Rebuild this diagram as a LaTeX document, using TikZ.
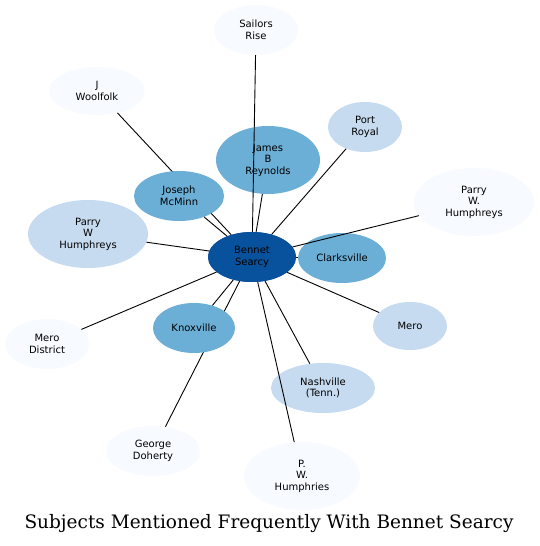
\documentclass[tikz,border=0pt]{standalone}
\usepackage{fontspec}
\setmainfont{DejaVu Sans}
\newfontfamily\titlefont{DejaVu Serif}
\usetikzlibrary{shapes.geometric}
\definecolor{c0}{HTML}{F7FBFF}
\definecolor{c1}{HTML}{C6DBEF}
\definecolor{c2}{HTML}{6BAED6}
\definecolor{c3}{HTML}{08519C}
\tikzset{
  ent/.style args={#1/#2/#3}{ellipse, fill=#1, draw=none, inner sep=0pt,
    minimum width=#2pt, minimum height=#3pt, align=center,
    font=\fontsize{10}{11.5}\selectfont},
  link/.style={line width=0.9pt, black}
}
\begin{document}
\begin{tikzpicture}[x=1pt,y=-1pt]
\useasboundingbox (0,0) rectangle (539,546);
\fill[white] (0,0) rectangle (539,546);
% centre node first, so that the hidden edges can reach it
\node[ent=c3/88/50] (B) at (252,257) {Bennet\\Searcy};
% nodes whose edges run under other nodes
\node[ent=c0/96/48] (WO) at (97,91) {J\\Woolfolk};
\node[ent=c0/94/50] (GD) at (153,451) {George\\Doherty};
\draw[link] (WO) -- (B);
\draw[link] (GD) -- (B);
% nodes
\node[ent=c0/84/50] (SR) at (256,30) {Sailors\\Rise};
\node[ent=c1/74/50] (PR) at (365,127) {Port\\Royal};
\node[ent=c2/104/68] (JR) at (268,160) {James\\B\\Reynolds};
\node[ent=c2/90/50] (JM) at (179,196) {Joseph\\McMinn};
\node[ent=c0/120/68] (PH2) at (474,202) {Parry\\W.\\Humphreys};
\node[ent=c1/120/68] (PH1) at (88,234) {Parry\\W\\Humphreys};
\node[ent=c3/88/50] (B) at (252,257) {Bennet\\Searcy};
\node[ent=c2/88/50] (CL) at (342,258) {Clarksville};
\node[ent=c1/74/48] (ME) at (410,326) {Mero};
\node[ent=c0/84/50] (MD) at (47,344) {Mero\\District};
\node[ent=c2/82/50] (KN) at (194,328) {Knoxville};
\node[ent=c1/104/50] (NA) at (323,388) {Nashville\\(Tenn.)};
\node[ent=c0/116/68] (PW) at (302,476) {P.\\W.\\Humphries};
% edges drawn over the nodes
\draw[link] (SR) -- (B);
\draw[link] (PR) -- (B);
\draw[link] (JR) -- (B);
\draw[link] (JM) -- (B);
\draw[link] (PH2) -- (B);
\draw[link] (PH1) -- (B);
\draw[link] (CL) -- (B);
\draw[link] (ME) -- (B);
\draw[link] (MD) -- (B);
\draw[link] (KN) -- (B);
\draw[link] (NA) -- (B);
\draw[link] (PW) -- (B);
\node[font=\titlefont\fontsize{18.5}{21}\selectfont] (T) at (269,524) {Subjects Mentioned Frequently With Bennet Searcy};
\end{tikzpicture}
\end{document}
